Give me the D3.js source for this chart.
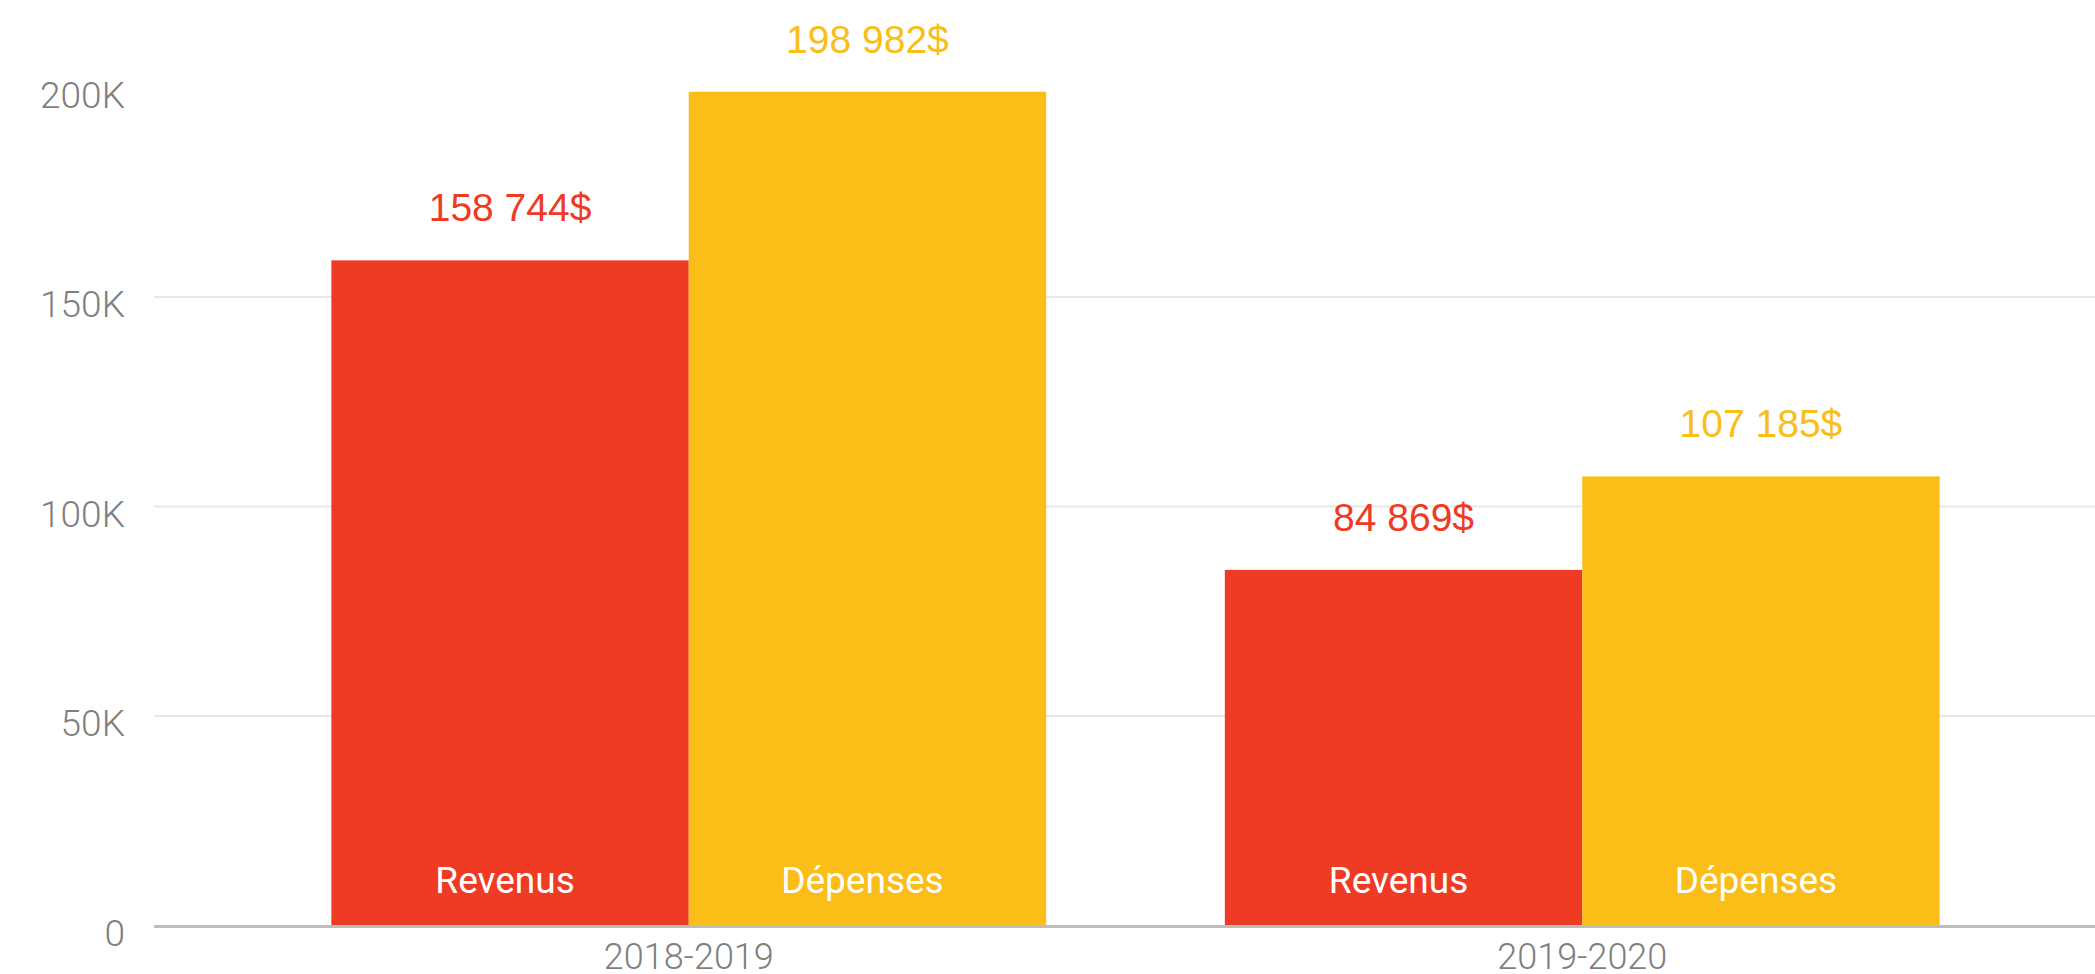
<!DOCTYPE html>
<html>
<head>
<meta charset="utf-8">
<script src="https://cdn.jsdelivr.net/npm/d3@7"></script>
<style>
  html, body { margin: 0; padding: 0; background: #ffffff; }
  svg { display: block; }
</style>
</head>
<body>
<svg id="chart" width="2095" height="974"></svg>
<script>
// ---- data ----
const categories = ["2018-2019", "2019-2020"];
const seriesNames = ["Revenus", "Dépenses"];
const revenus = [158744, 84869];
const depenses = [198982, 107185];
const yTickValues = [0, 50000, 100000, 150000, 200000];
const yTickLabels = ["0", "50K", "100K", "150K", "200K"];
const seriesColors = ["#EF3A24", "#FBBD18"];

// ---- layout ----
const W = 2095, H = 974;
const gridLeft = 154, gridRight = 2095;
const yBottom = 925.5, yTop = 87.5;

const svg = d3.select("#chart");

const y = d3.scaleLinear().domain([0, 200000]).range([yBottom, yTop]);
const x0 = d3.scaleBand().domain(categories).range([242, 2029]).paddingInner(0.2).paddingOuter(0.1);
const x1 = d3.scaleBand().domain(seriesNames).range([0, x0.bandwidth()]);
const color = d3.scaleOrdinal().domain(seriesNames).range(seriesColors);

const locale = d3.formatLocale({decimal: ",", thousands: " ", grouping: [3], currency: ["", "$"]});
const fmt = locale.format("$,.0f");

const rows = categories.map((c, i) => ({
  category: c,
  values: [
    {series: seriesNames[0], value: revenus[i]},
    {series: seriesNames[1], value: depenses[i]}
  ]
}));

// gridlines
svg.append("g")
  .selectAll("line")
  .data(yTickValues.filter(v => v > 0 && v < 200000))
  .join("line")
  .attr("x1", gridLeft).attr("x2", gridRight)
  .attr("y1", d => y(d)).attr("y2", d => y(d))
  .attr("stroke", "#e8e8e8").attr("stroke-width", 2);

// y axis labels
const yAxis = d3.axisLeft(y)
  .tickValues(yTickValues)
  .tickFormat((d, i) => yTickLabels[i])
  .tickSize(0)
  .tickPadding(29);
const gy = svg.append("g").attr("transform", `translate(${gridLeft},0)`).call(yAxis);
gy.select(".domain").remove();
gy.selectAll("text")
  .attr("dy", "0.54em")
  .attr("fill", "#7f7f7f")
  .style("font-family", "Roboto, sans-serif")
  .style("font-weight", 300)
  .style("font-size", "37px");

// bars
const groups = svg.append("g")
  .selectAll("g")
  .data(rows)
  .join("g")
  .attr("transform", d => `translate(${x0(d.category)},0)`);

groups.selectAll("rect")
  .data(d => d.values)
  .join("rect")
  .attr("x", d => x1(d.series))
  .attr("y", d => y(d.value))
  .attr("width", x1.bandwidth())
  .attr("height", d => y(0) - y(d.value))
  .attr("fill", d => color(d.series));

// value labels
groups.selectAll("text.value")
  .data(d => d.values)
  .join("text")
  .attr("class", "value")
  .attr("x", d => x1(d.series) + x1.bandwidth() / 2)
  .attr("y", d => y(d.value) - 39)
  .attr("text-anchor", "middle")
  .attr("fill", d => color(d.series))
  .style("font-family", "'Liberation Sans', Arial, sans-serif")
  .style("font-size", "39px")
  .text(d => fmt(d.value));

// series labels inside bars
groups.selectAll("text.series")
  .data(d => d.values)
  .join("text")
  .attr("class", "series")
  .attr("x", d => x1(d.series) + x1.bandwidth() / 2 - 5)
  .attr("y", y(0) - 33)
  .attr("text-anchor", "middle")
  .attr("fill", "#ffffff")
  .style("font-family", "Roboto, sans-serif")
  .style("font-weight", 400)
  .style("font-size", "37px")
  .text(d => d.series);

// baseline
svg.append("line")
  .attr("x1", gridLeft).attr("x2", gridRight)
  .attr("y1", y(0) + 1).attr("y2", y(0) + 1)
  .attr("stroke", "#bdbdbd").attr("stroke-width", 3);

// x axis labels
const xAxis = d3.axisBottom(x0).tickSize(0).tickPadding(0);
const gx = svg.append("g").attr("transform", `translate(0,${y(0)})`).call(xAxis);
gx.select(".domain").remove();
gx.selectAll("text")
  .attr("y", 43)
  .attr("dy", 0)
  .attr("fill", "#7f7f7f")
  .style("font-family", "Roboto, sans-serif")
  .style("font-weight", 300)
  .style("font-size", "36px");
</script>
</body>
</html>
